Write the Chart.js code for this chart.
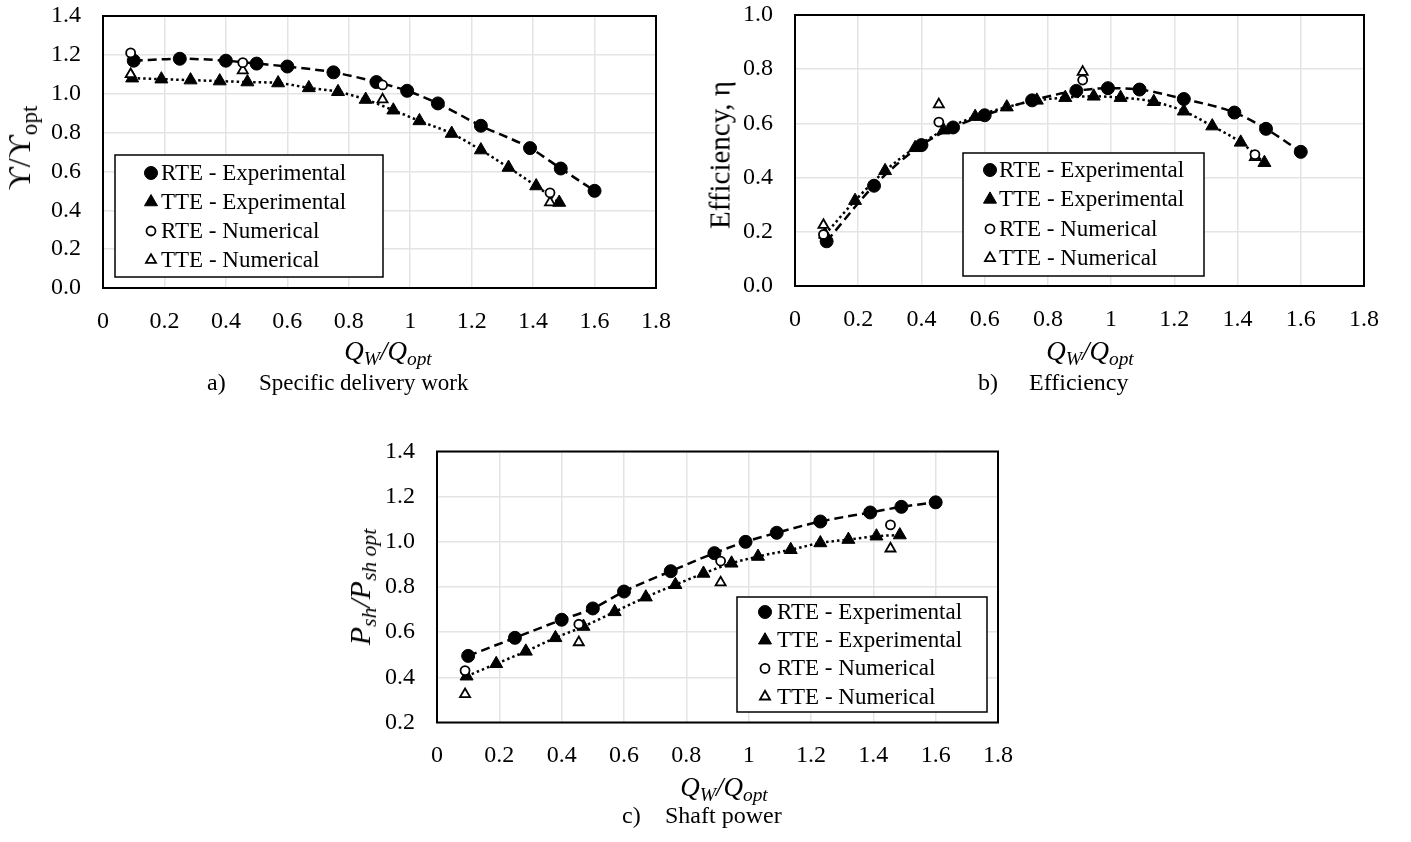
<!DOCTYPE html>
<html lang="en">
<head>
<meta charset="UTF-8">
<title>RTE / TTE performance curves</title>
<script src="https://cdn.jsdelivr.net/npm/chart.js"></script>
<style>
  body { margin: 0; background: #fff; font-family: "Liberation Serif", "Times New Roman", serif; color: #000; }
  #page { position: relative; width: 1411px; height: 842px; overflow: hidden; }
  canvas { position: absolute; }
  .t { position: absolute; white-space: nowrap; line-height: 1; font-size: 27px; transform: translate(-50%, -50%); }
  .rot { transform: translate(-50%, -50%) rotate(-90deg); }
  .cap { position: absolute; white-space: nowrap; line-height: 1; font-size: 24px; transform: translateY(-50%); }
  sub { font-size: 72%; vertical-align: -0.3em; line-height: 0; }
</style>
</head>
<body>
<div id="page">
  <canvas id="chartA" width="700" height="340" style="left:0;top:0"></canvas>
  <canvas id="chartB" width="711" height="340" style="left:700px;top:0"></canvas>
  <canvas id="chartC" width="700" height="350" style="left:350px;top:430px"></canvas>

  <div class="t rot" style="left:19px;top:148px;font-size:32px">&#x3D2;/&#x3D2;<sub>opt</sub></div>
  <div class="t" style="left:388px;top:351px"><i>Q<sub>W</sub>/Q<sub>opt</sub></i></div>
  <div class="cap" style="left:207px;top:382px">a)</div>
  <div class="cap" style="left:259px;top:382px;font-size:23px">Specific delivery work</div>

  <div class="t rot" style="left:720px;top:155px;font-size:29px">Efficiency, η</div>
  <div class="t" style="left:1090px;top:351px"><i>Q<sub>W</sub>/Q<sub>opt</sub></i></div>
  <div class="cap" style="left:978px;top:382px">b)</div>
  <div class="cap" style="left:1029px;top:382px">Efficiency</div>

  <div class="t rot" style="left:360px;top:587px;font-size:30px"><i>P<sub>sh</sub>/P<sub>sh opt</sub></i></div>
  <div class="t" style="left:724px;top:787px"><i>Q<sub>W</sub>/Q<sub>opt</sub></i></div>
  <div class="cap" style="left:622px;top:815px">c)</div>
  <div class="cap" style="left:665px;top:815px">Shaft power</div>
</div>

<script>
// flow rate Q/Qopt of each measured / computed point
const qRteExp = [0.10, 0.25, 0.40, 0.50, 0.60, 0.75, 0.89, 0.99, 1.09, 1.23, 1.39, 1.49, 1.60];
const qTteExp = [0.095, 0.19, 0.285, 0.38, 0.47, 0.57, 0.67, 0.765, 0.855, 0.945, 1.03, 1.135, 1.23, 1.32, 1.41, 1.485];
const qNum = [0.09, 0.455, 0.91, 1.455];

// a) specific delivery work
const workRteExp = [1.17, 1.18, 1.17, 1.155, 1.14, 1.11, 1.06, 1.015, 0.95, 0.835, 0.72, 0.615, 0.50];
const workTteExp = [1.08, 1.075, 1.07, 1.065, 1.06, 1.055, 1.03, 1.01, 0.97, 0.915, 0.86, 0.795, 0.71, 0.62, 0.525, 0.44];
const workRteNum = [1.21, 1.16, 1.045, 0.49];
const workTteNum = [1.10, 1.12, 0.97, 0.44];

// b) efficiency
const effRteExp = [0.165, 0.37, 0.52, 0.585, 0.63, 0.685, 0.72, 0.73, 0.725, 0.69, 0.64, 0.58, 0.495];
const effTteExp = [0.19, 0.315, 0.425, 0.51, 0.575, 0.625, 0.66, 0.685, 0.695, 0.70, 0.695, 0.68, 0.645, 0.59, 0.53, 0.455];
const effRteNum = [0.19, 0.605, 0.76, 0.485];
const effTteNum = [0.225, 0.67, 0.79, 0.475];

// c) shaft power
const powRteExp = [0.495, 0.575, 0.655, 0.705, 0.78, 0.87, 0.95, 1.0, 1.04, 1.09, 1.13, 1.155, 1.175];
const powTteExp = [0.405, 0.46, 0.515, 0.575, 0.625, 0.69, 0.755, 0.81, 0.86, 0.905, 0.935, 0.965, 0.995, 1.01, 1.025, 1.03];
const powRteNum = [0.43, 0.635, 0.915, 1.075];
const powTteNum = [0.325, 0.555, 0.82, 0.97];

const seriesNames = ['RTE - Experimental', 'TTE - Experimental', 'RTE - Numerical', 'TTE - Numerical'];
const xTickLabels = ['0', '0.2', '0.4', '0.6', '0.8', '1', '1.2', '1.4', '1.6', '1.8'];
const yTicksA = ['0.0', '0.2', '0.4', '0.6', '0.8', '1.0', '1.2', '1.4'];
const yTicksB = ['0.0', '0.2', '0.4', '0.6', '0.8', '1.0'];
const yTicksC = ['0.2', '0.4', '0.6', '0.8', '1.0', '1.2', '1.4'];

const FONT = '"Liberation Serif", "Times New Roman", serif';
Chart.defaults.font.family = FONT;
Chart.defaults.color = '#000';

const pts = (xs, ys) => xs.map((x, i) => ({ x: x, y: ys[i] }));

function drawMarker(ctx, style, r, x, y) {
  ctx.beginPath();
  if (style === 'triangle') {
    ctx.moveTo(x, y - r);
    ctx.lineTo(x + r * 0.866, y + r * 0.5);
    ctx.lineTo(x - r * 0.866, y + r * 0.5);
    ctx.closePath();
  } else {
    ctx.arc(x, y, r, 0, Math.PI * 2);
  }
  ctx.fill();
  ctx.stroke();
}

// frame round the plot area + legend box inside it
const framePlugin = {
  id: 'frame',
  beforeDatasetsDraw(chart) {
    const { ctx, chartArea: a } = chart;
    ctx.save();
    ctx.strokeStyle = '#000';
    ctx.lineWidth = 2;
    ctx.strokeRect(a.left, a.top, a.right - a.left, a.bottom - a.top);
    ctx.restore();
  },
  afterDraw(chart, args, opts) {
    const L = opts.legend;
    if (!L) return;
    const ctx = chart.ctx;
    ctx.save();
    ctx.fillStyle = '#fff';
    ctx.fillRect(L.x, L.y, L.w, L.h);
    ctx.strokeStyle = '#000';
    ctx.lineWidth = 1.5;
    ctx.strokeRect(L.x, L.y, L.w, L.h);
    chart.data.datasets.forEach((ds, i) => {
      const cy = L.y + L.first + i * L.row;
      ctx.fillStyle = ds.pointBackgroundColor;
      ctx.strokeStyle = '#000';
      ctx.lineWidth = ds.pointBorderWidth;
      drawMarker(ctx, ds.pointStyle, ds.pointRadius, L.x + L.mark, cy);
      ctx.fillStyle = '#000';
      ctx.font = '23px ' + FONT;
      ctx.textBaseline = 'middle';
      ctx.textAlign = 'left';
      ctx.fillText(ds.label, L.x + L.text, cy + 1);
    });
    ctx.restore();
  }
};

// scales must not add their own label padding, the plot area is fixed
function noPad(s) {
  s.paddingTop = 0; s.paddingBottom = 0; s.paddingLeft = 0; s.paddingRight = 0;
}

function makeChart(id, d, yLabels, area, legend) {
  const canvas = document.getElementById(id);
  const tickFont = { size: 24, family: FONT };
  return new Chart(canvas, {
    type: 'scatter',
    data: {
      datasets: [
        {
          label: seriesNames[0], data: pts(qRteExp, d[0]), order: 2,
          showLine: true, borderColor: '#000', borderWidth: 2.5, borderDash: [9, 5],
          cubicInterpolationMode: 'monotone',
          pointStyle: 'circle', pointRadius: 6.5, pointBackgroundColor: '#000',
          pointBorderColor: '#000', pointBorderWidth: 1
        },
        {
          label: seriesNames[1], data: pts(qTteExp, d[1]), order: 1,
          showLine: true, borderColor: '#000', borderWidth: 2.5, borderDash: [2.5, 3],
          cubicInterpolationMode: 'monotone',
          pointStyle: 'triangle', pointRadius: 7.5, pointBackgroundColor: '#000',
          pointBorderColor: '#000', pointBorderWidth: 1
        },
        {
          label: seriesNames[2], data: pts(qNum, d[2]), order: 0,
          pointStyle: 'circle', pointRadius: 4.5, pointBackgroundColor: '#fff',
          pointBorderColor: '#000', pointBorderWidth: 1.8
        },
        {
          label: seriesNames[3], data: pts(qNum, d[3]), order: 0,
          pointStyle: 'triangle', pointRadius: 5.8, pointBackgroundColor: '#fff',
          pointBorderColor: '#000', pointBorderWidth: 1.8
        }
      ]
    },
    options: {
      responsive: false,
      animation: false,
      devicePixelRatio: 1,
      layout: { autoPadding: false, padding: { left: 0, top: area.top, right: canvas.width - area.right, bottom: 0 } },
      plugins: {
        legend: { display: false },
        tooltip: { enabled: false },
        frame: { legend: legend }
      },
      scales: {
        x: {
          type: 'linear',
          min: 0, max: 1.8,
          afterBuildTicks: s => { s.ticks = xTickLabels.map(t => ({ value: parseFloat(t) })); },
          afterFit: s => { s.height = canvas.height - area.bottom; noPad(s); },
          grid: { color: '#e4e4e4', lineWidth: 1.5, drawTicks: false },
          border: { display: false },
          ticks: { callback: (v, i) => xTickLabels[i], font: tickFont, color: '#000', padding: 19, maxRotation: 0, autoSkip: false }
        },
        y: {
          type: 'linear',
          min: parseFloat(yLabels[0]), max: parseFloat(yLabels[yLabels.length - 1]),
          afterBuildTicks: s => { s.ticks = yLabels.map(t => ({ value: parseFloat(t) })); },
          afterFit: s => { s.width = area.left; noPad(s); },
          grid: { color: '#e4e4e4', lineWidth: 1.5, drawTicks: false },
          border: { display: false },
          ticks: { callback: (v, i) => yLabels[i], font: tickFont, color: '#000', padding: 22, autoSkip: false }
        }
      }
    },
    plugins: [framePlugin]
  });
}

makeChart('chartA', [workRteExp, workTteExp, workRteNum, workTteNum], yTicksA,
  { left: 103, top: 16, right: 656, bottom: 288 },
  { x: 115, y: 155, w: 268, h: 122, first: 18, row: 29, mark: 36, text: 46 });

makeChart('chartB', [effRteExp, effTteExp, effRteNum, effTteNum], yTicksB,
  { left: 95, top: 15, right: 664, bottom: 286 },
  { x: 263, y: 153, w: 241, h: 123, first: 17, row: 29.4, mark: 27, text: 36 });

makeChart('chartC', [powRteExp, powTteExp, powRteNum, powTteNum], yTicksC,
  { left: 87, top: 21.5, right: 648, bottom: 292.5 },
  { x: 387, y: 167, w: 250, h: 115, first: 15, row: 28.2, mark: 28, text: 40 });
</script>
</body>
</html>
